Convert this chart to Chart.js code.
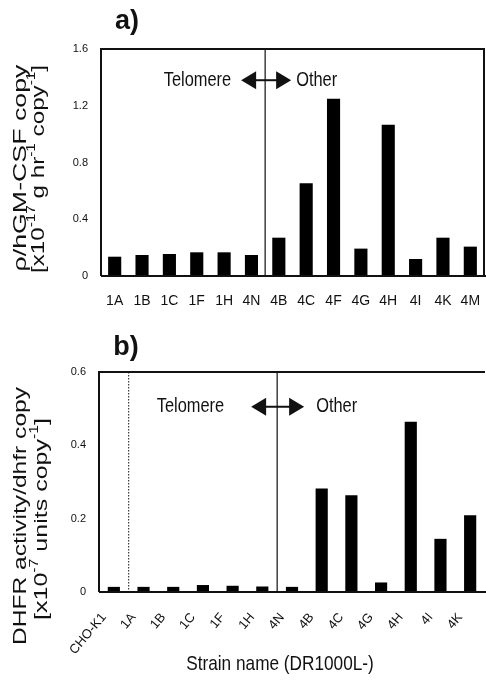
<!DOCTYPE html>
<html lang="en">
  <head>
    <meta charset="UTF-8" />
    <title>Strain productivity</title>
    <script src="https://cdn.jsdelivr.net/npm/chart.js@4.4.1/dist/chart.umd.min.js"></script>
    <style>
      html, body { margin: 0; padding: 0; background: #fff; }
      .panel { position: absolute; left: 0; width: 486px; }
      #wrapA { top: 0; height: 328px; }
      #wrapB { top: 328px; height: 352px; }
    </style>
  </head>
  <body>
    <div class="panel" id="wrapA"><canvas id="chartA"></canvas></div>
    <div class="panel" id="wrapB"><canvas id="chartB"></canvas></div>

    <script>
      //data
      const strainsA = ['1A', '1B', '1C', '1F', '1H', '4N', '4B', '4C', '4F', '4G', '4H', '4I', '4K', '4M'];
      const productivityA = [0.136, 0.148, 0.155, 0.167, 0.167, 0.148, 0.27, 0.654, 1.25, 0.193, 1.066, 0.12, 0.27, 0.207];
      const ticksA = [0, 0.4, 0.8, 1.2, 1.6];

      const strainsB = ['CHO-K1', '1A', '1B', '1C', '1F', '1H', '4N', '4B', '4C', '4G', '4H', '4I', '4K'];
      const dhfrB = [0.014, 0.014, 0.014, 0.019, 0.017, 0.015, 0.014, 0.282, 0.264, 0.026, 0.464, 0.145, 0.209];
      const ticksB = [0, 0.2, 0.4, 0.6];

      const SANS = "'Liberation Sans', Arial, sans-serif";
      const INK = '#111';
      const NARROW = 0.82; // horizontal squeeze for the condensed lettering

      // rich text line: parts of [text, isSuperscript]
      function richWidth(ctx, parts, size) {
        let w = 0;
        parts.forEach(([t, sup]) => {
          ctx.font = (sup ? Math.round(size * 0.62) : size) + 'px ' + SANS;
          w += ctx.measureText(t).width;
        });
        return w;
      }

      function drawRich(ctx, parts, size, cx, cy, length) {
        const w = richWidth(ctx, parts, size);
        ctx.save();
        ctx.translate(cx, cy);
        ctx.rotate(-Math.PI / 2);
        ctx.scale(length / w, 1);
        ctx.textBaseline = 'middle';
        ctx.textAlign = 'left';
        let x = -w / 2;
        parts.forEach(([t, sup]) => {
          ctx.font = (sup ? Math.round(size * 0.62) : size) + 'px ' + SANS;
          ctx.fillText(t, x, sup ? -size * 0.38 : 0);
          x += ctx.measureText(t).width;
        });
        ctx.restore();
      }

      function narrowText(ctx, text, x, y, size, align) {
        ctx.save();
        ctx.translate(x, y);
        ctx.scale(NARROW, 1);
        ctx.font = size + 'px ' + SANS;
        ctx.textAlign = align;
        ctx.textBaseline = 'middle';
        ctx.fillText(text, 0, 0);
        ctx.restore();
      }

      function arrowHead(ctx, tipX, y, dir, len, half) {
        ctx.beginPath();
        ctx.moveTo(tipX, y);
        ctx.lineTo(tipX - dir * len, y - half);
        ctx.lineTo(tipX - dir * len, y + half);
        ctx.closePath();
        ctx.fill();
      }

      // frame, dividers, region labels and axis titles
      const decorPlugin = {
        id: 'decor',
        afterDatasetsDraw(chart, args, opts) {
          const { ctx, chartArea: a, scales } = chart;
          const x = scales.x, y = scales.y;
          ctx.save();
          ctx.fillStyle = INK;
          ctx.strokeStyle = INK;

          // frame
          ctx.lineWidth = 2;
          ctx.beginPath();
          ctx.moveTo(a.left, a.bottom);
          ctx.lineTo(a.left, a.top);
          ctx.lineTo(a.right, a.top);
          if (opts.rightBorder) ctx.lineTo(a.right, a.bottom);
          ctx.stroke();
          ctx.beginPath();
          ctx.moveTo(a.left, a.bottom);
          ctx.lineTo(chart.width, a.bottom);
          ctx.stroke();

          // group dividers
          ctx.lineWidth = 1.2;
          const lx = x.getPixelForValue(opts.divider);
          ctx.beginPath();
          ctx.moveTo(lx, a.top);
          ctx.lineTo(lx, a.bottom);
          ctx.stroke();
          if (opts.dotted != null) {
            const dx = x.getPixelForValue(opts.dotted);
            ctx.setLineDash([1.5, 1.5]);
            ctx.lineWidth = 1;
            ctx.beginPath();
            ctx.moveTo(dx, a.top);
            ctx.lineTo(dx, a.bottom);
            ctx.stroke();
            ctx.setLineDash([]);
          }

          // Telomere <-> Other
          const ay = y.getPixelForValue(opts.arrowAt);
          const l = lx + opts.arrow[0], r = lx + opts.arrow[1];
          ctx.lineWidth = 2;
          ctx.beginPath();
          ctx.moveTo(l + 10, ay);
          ctx.lineTo(r - 10, ay);
          ctx.stroke();
          arrowHead(ctx, l, ay, -1, 15, 9);
          arrowHead(ctx, r, ay, 1, 15, 9);
          narrowText(ctx, 'Telomere', l - opts.gaps[0], ay, 20, 'right');
          narrowText(ctx, 'Other', r + opts.gaps[1], ay, 20, 'left');

          // panel letter
          ctx.font = 'bold 27px ' + SANS;
          ctx.textAlign = 'center';
          ctx.textBaseline = 'middle';
          ctx.fillText(opts.letter, opts.letterPos[0], opts.letterPos[1]);

          // y title (two lines)
          opts.yTitle.forEach((line) => drawRich(ctx, line.parts, 19, line.x, line.y, line.len));

          // x title
          if (opts.xTitle) narrowText(ctx, opts.xTitle.text, opts.xTitle.x, opts.xTitle.y, 21, 'center');
          ctx.restore();
        }
      };

      function makeConfig(labels, values, ticks, panel) {
        return {
          type: 'bar',
          data: {
            labels: labels,
            datasets: [{
              data: values,
              backgroundColor: '#000',
              borderWidth: 0,
              categoryPercentage: 1,
              barPercentage: panel.barPct
            }]
          },
          options: {
            responsive: true,
            maintainAspectRatio: false,
            animation: false,
            layout: { padding: { top: panel.top, right: panel.right, left: 0, bottom: 0 } },
            plugins: {
              legend: { display: false },
              tooltip: { enabled: false },
              decor: panel.decor
            },
            scales: {
              x: {
                grid: { display: false, drawTicks: false },
                border: { display: false },
                afterFit: (s) => {
                  s.height = panel.xHeight;
                  s.paddingLeft = 0;
                  s.paddingRight = 0;
                },
                ticks: {
                  color: INK,
                  font: { family: SANS, size: panel.xFont },
                  padding: panel.xPad,
                  autoSkip: false,
                  minRotation: panel.rot,
                  maxRotation: panel.rot,
                  labelOffset: panel.labelOffset
                }
              },
              y: {
                min: 0,
                max: ticks[ticks.length - 1],
                grid: { display: false, drawTicks: false },
                border: { display: false },
                afterFit: (s) => { s.width = panel.yWidth; },
                afterBuildTicks: (s) => { s.ticks = ticks.map((v) => ({ value: v })); },
                ticks: {
                  color: INK,
                  font: { family: SANS, size: 11 },
                  padding: 13
                }
              }
            }
          },
          plugins: [decorPlugin]
        };
      }

      //init
      const chartA = new Chart(document.getElementById('chartA'), makeConfig(strainsA, productivityA, ticksA, {
        barPct: 0.48, top: 49, right: 2, xHeight: 52, yWidth: 101, xFont: 14, xPad: 17, rot: 0, labelOffset: 0,
        decor: {
          rightBorder: true, divider: 5.5, dotted: null, arrowAt: 1.38,
          arrow: [-24, 26], gaps: [10, 5],
          letter: 'a)', letterPos: [127, 22],
          yTitle: [
            { parts: [['ρ/hGM-CSF copy', false]], x: 20.5, y: 168, len: 207 },
            { parts: [['[x10', false], ['-17', true], [' g hr', false], ['-1', true], [' copy', false], ['-1', true], [']', false]], x: 38.5, y: 169, len: 208 }
          ]
        }
      }));

      const chartB = new Chart(document.getElementById('chartB'), makeConfig(strainsB, dhfrB, ticksB, {
        barPct: 0.41, top: 44, right: 1, xHeight: 88, yWidth: 99, xFont: 13, xPad: 18, rot: 50, labelOffset: -10,
        decor: {
          rightBorder: false, divider: 5.5, dotted: 0.5, arrowAt: 0.505,
          arrow: [-26, 27], gaps: [27, 12],
          letter: 'b)', letterPos: [126, 20],
          yTitle: [
            { parts: [['DHFR activity/dhfr copy', false]], x: 20.5, y: 188, len: 258 },
            { parts: [['[x10', false], ['-7', true], [' units copy', false], ['-1', true], [']', false]], x: 41.5, y: 191, len: 202 }
          ],
          xTitle: { text: 'Strain name (DR1000L-)', x: 280, y: 336 }
        }
      }));
    </script>
  </body>
</html>
